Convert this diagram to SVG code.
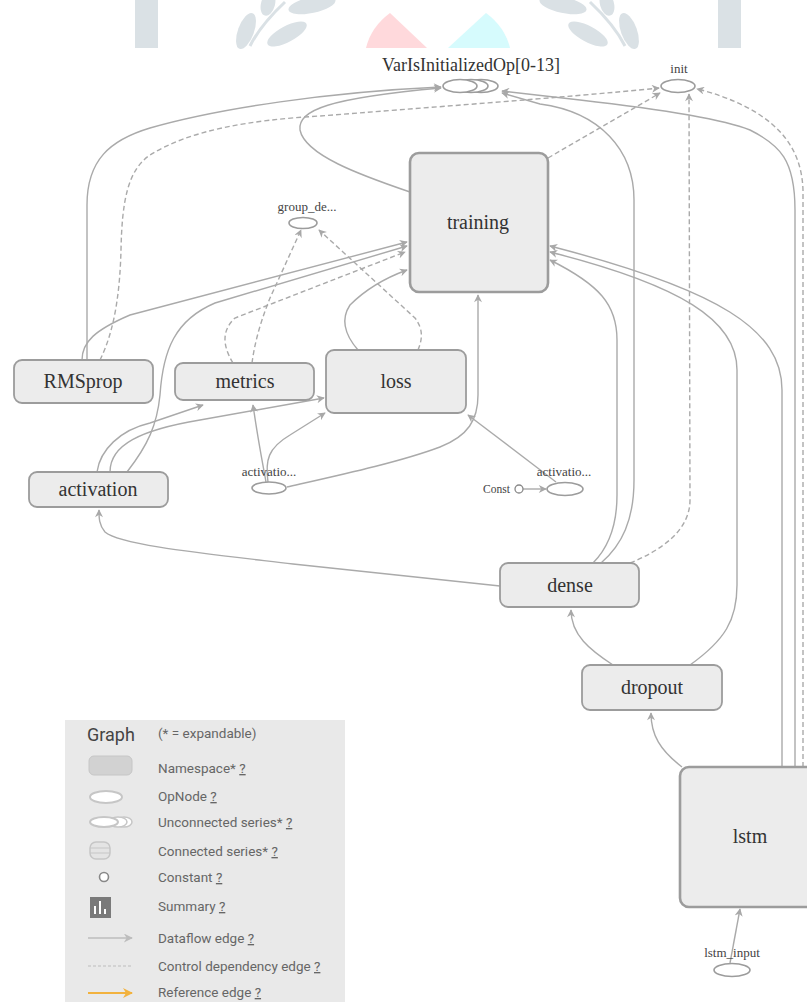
<svg xmlns="http://www.w3.org/2000/svg" width="807" height="1002" viewBox="0 0 807 1002">
<defs>
<marker id="arr" viewBox="0 0 10 10" refX="9" refY="5" markerWidth="9" markerHeight="8" markerUnits="userSpaceOnUse" orient="auto"><path d="M0,0 L10,5 L0,10 L3,5 Z" fill="#a8a8a8"/></marker>
<marker id="arrLeg" viewBox="0 0 10 10" refX="9" refY="5" markerWidth="10" markerHeight="9" markerUnits="userSpaceOnUse" orient="auto"><path d="M0,0 L10,5 L0,10 L3,5 Z" fill="#bdbdbd"/></marker>
<marker id="arrRef" viewBox="0 0 10 10" refX="9" refY="5" markerWidth="11" markerHeight="10" markerUnits="userSpaceOnUse" orient="auto"><path d="M0,0 L10,5 L0,10 L3,5 Z" fill="#f2b23e"/></marker>
</defs>
<style>
.ns{fill:#ececec;stroke:#9c9c9c;stroke-width:1.8}
.big{stroke-width:2.6}
.lbl{font-size:20px;fill:#333;text-anchor:middle}
.sm{font-size:13px;fill:#444;text-anchor:middle}
.op{fill:#fff;stroke:#9c9c9c;stroke-width:1.6}
.e{fill:none;stroke:#aaa;stroke-width:1.4;marker-end:url(#arr)}
.c{stroke-dasharray:5 3}
.leg{font-size:13.5px;fill:#666}
.u{text-decoration:underline}
.wm{fill:#dae1e5}
</style>
<rect x="0" y="0" width="807" height="1002" fill="#fff"/>

<g id="watermark">
<rect class="wm" x="135" y="0" width="23" height="48"/>
<rect class="wm" x="718" y="0" width="23" height="48"/>
<g id="leaves-left">
<ellipse class="wm" cx="246" cy="31" rx="8" ry="19" transform="rotate(20 246 31)"/>
<ellipse class="wm" cx="287" cy="34" rx="22" ry="8" transform="rotate(-28 287 34)"/>
<ellipse class="wm" cx="268" cy="4" rx="7" ry="12" transform="rotate(15 268 4)"/>
<ellipse class="wm" cx="312" cy="5" rx="24" ry="8" transform="rotate(-12 312 5)"/>
<path d="M250,46 C258,30 268,18 285,2" fill="none" stroke="#dae1e5" stroke-width="3"/>
</g>
<g id="leaves-right" transform="translate(875,0) scale(-1,1)">
<ellipse class="wm" cx="246" cy="31" rx="8" ry="19" transform="rotate(20 246 31)"/>
<ellipse class="wm" cx="287" cy="34" rx="22" ry="8" transform="rotate(-28 287 34)"/>
<ellipse class="wm" cx="268" cy="4" rx="7" ry="12" transform="rotate(15 268 4)"/>
<ellipse class="wm" cx="312" cy="5" rx="24" ry="8" transform="rotate(-12 312 5)"/>
<path d="M250,46 C258,30 268,18 285,2" fill="none" stroke="#dae1e5" stroke-width="3"/>
</g>
<path d="M366,48 Q371,27 390,13 L427,48 Z" fill="#ffd9dc"/>
<path d="M448,48 L486,13 Q505,27 510,48 Z" fill="#d6fbfd"/>
</g>

<g id="legend" font-family="Roboto, 'Liberation Sans', sans-serif">
<rect x="65" y="720" width="280" height="282" fill="#e9e9e9"/>
<text x="87" y="741" font-size="18" fill="#444">Graph</text>
<text x="158" y="738" class="leg" font-size="12">(* = expandable)</text>
<rect x="89" y="756" width="43" height="19" rx="5" fill="#d2d2d2" stroke="#c6c6c6"/>
<ellipse cx="106" cy="797" rx="16" ry="6" fill="#fff" stroke="#c6c6c6" stroke-width="2"/>
<ellipse cx="124" cy="822" rx="8" ry="5" fill="#fff" stroke="#c6c6c6" stroke-width="1.5"/>
<ellipse cx="118" cy="822" rx="9" ry="5" fill="#fff" stroke="#c6c6c6" stroke-width="1.5"/>
<ellipse cx="104" cy="822" rx="14" ry="5" fill="#fff" stroke="#c6c6c6" stroke-width="2"/>
<rect x="90" y="842" width="20" height="17" rx="6" fill="#e4e4e4" stroke="#c6c6c6" stroke-width="1.5"/>
<path d="M90,848 H110 M90,853 H110" stroke="#c6c6c6" stroke-width="1.2"/>
<circle cx="104" cy="877" r="4.5" fill="#fff" stroke="#888" stroke-width="1.6"/>
<rect x="90" y="897" width="21" height="21" fill="#7a7a7a"/>
<path d="M95,914 V906 M100,914 V901 M105,914 V909" stroke="#fff" stroke-width="2"/>
<line x1="88" y1="938" x2="132" y2="938" stroke="#bdbdbd" stroke-width="1.5" marker-end="url(#arrLeg)"/>
<line x1="88" y1="966" x2="132" y2="966" stroke="#bdbdbd" stroke-width="1.2" stroke-dasharray="3 2"/>
<line x1="88" y1="993" x2="132" y2="993" stroke="#f2b23e" stroke-width="2" marker-end="url(#arrRef)"/>
<text class="leg" x="158" y="773">Namespace* <tspan class="u">?</tspan></text>
<text class="leg" x="158" y="801">OpNode <tspan class="u">?</tspan></text>
<text class="leg" x="158" y="827">Unconnected series* <tspan class="u">?</tspan></text>
<text class="leg" x="158" y="856">Connected series* <tspan class="u">?</tspan></text>
<text class="leg" x="158" y="882">Constant <tspan class="u">?</tspan></text>
<text class="leg" x="158" y="911">Summary <tspan class="u">?</tspan></text>
<text class="leg" x="158" y="943">Dataflow edge <tspan class="u">?</tspan></text>
<text class="leg" x="158" y="971">Control dependency edge <tspan class="u">?</tspan></text>
<text class="leg" x="158" y="997">Reference edge <tspan class="u">?</tspan></text>
</g>

<g id="connectors">
<path class="e" d="M87,360 L87,205 C87,160 110,140 150,128 C220,108 330,92 441,87"/>
<path class="e c" d="M100,360 C115,330 120,290 121,250 C122,200 128,170 150,155 C190,130 250,120 320,116 C420,108 560,98 659,88"/>
<path class="e" d="M410,192 C360,175 305,155 300,130 C297,110 330,98 441,88"/>
<path class="e" d="M601,563 C622,545 634,520 634,480 L634,200 C634,150 600,112 540,104 L502,93"/>
<path class="e" d="M593,563 C608,548 617,525 617,495 L617,340 C617,305 600,285 550,260"/>
<path class="e" d="M690,665 C725,640 737,620 737,585 L737,370 C737,320 680,285 550,252"/>
<path class="e" d="M782,767 L782,390 C782,330 720,290 550,246"/>
<path class="e" d="M795,767 L795,210 C795,160 780,145 750,130 C720,118 650,108 580,100 L502,91"/>
<path class="e c" d="M803,767 L803,190 C802,160 790,135 760,115 C740,102 715,93 697,89"/>
<path class="e c" d="M630,563 C662,550 690,530 690,500 L689,94"/>
<path class="e c" d="M548,158 L660,93"/>
<path class="e" d="M682,767 C660,750 651,735 651,713"/>
<path class="e" d="M613,665 C590,650 571,635 571,610"/>
<path class="e" d="M500,586 L293,564 C200,553 120,545 105,532 C99,525 99,518 99,510"/>
<path class="e" d="M97,472 C100,450 120,430 150,423 L203,405"/>
<path class="e" d="M110,472 C110,445 140,430 200,420 L324,398"/>
<path class="e" d="M127,472 C148,445 157,425 160,395 C163,350 175,320 215,303 L407,246"/>
<path class="e" d="M82,360 C82,342 95,330 130,315 L407,242"/>
<path class="e c" d="M233,363 C222,345 222,330 235,318 L405,252"/>
<path class="e c" d="M252,363 C255,340 262,318 270,298 L301,230"/>
<path class="e c" d="M418,350 C422,340 424,330 415,318 L319,230"/>
<path class="e" d="M358,350 C345,335 340,320 350,305 C365,290 385,278 407,270"/>
<path class="e" d="M266,482 C262,460 258,440 253,405"/>
<path class="e" d="M268,482 C265,460 268,448 290,435 L325,413"/>
<path class="e" d="M287,487 C340,475 400,462 440,447 C468,436 478,420 478,395 L478,295"/>
<path class="e" d="M556,482 L468,415"/>
<path class="e" d="M523,489 L546,489"/>
<path class="e" d="M730,963 L740,909"/>
</g>

<g id="VarIsInitializedOp" font-family="'Liberation Serif', 'Times New Roman', serif">
<text x="471" y="71" font-size="18" fill="#333" text-anchor="middle">VarIsInitializedOp[0-13]</text>
<ellipse class="op" cx="481" cy="86" rx="17" ry="6.5"/>
<ellipse class="op" cx="471" cy="86" rx="17" ry="6.5"/>
<ellipse class="op" cx="460" cy="86" rx="17" ry="6.5"/>
</g>
<g id="init" font-family="'Liberation Serif', 'Times New Roman', serif">
<text class="sm" x="679" y="73">init</text>
<ellipse class="op" cx="678" cy="86" rx="17" ry="6.5"/>
</g>
<g id="training" font-family="'Liberation Serif', 'Times New Roman', serif">
<rect class="ns big" x="410" y="153" width="138" height="139" rx="9"/>
<text class="lbl" x="478" y="229">training</text>
</g>
<g id="group_deps" font-family="'Liberation Serif', 'Times New Roman', serif">
<text class="sm" x="307" y="211">group_de...</text>
<ellipse class="op" cx="303" cy="223" rx="14" ry="5.5"/>
</g>
<g id="RMSprop" font-family="'Liberation Serif', 'Times New Roman', serif">
<rect class="ns" x="14" y="360" width="139" height="43" rx="8"/>
<text class="lbl" x="83" y="388">RMSprop</text>
</g>
<g id="metrics" font-family="'Liberation Serif', 'Times New Roman', serif">
<rect class="ns" x="175" y="363" width="139" height="37" rx="8"/>
<text class="lbl" x="245" y="388">metrics</text>
</g>
<g id="loss" font-family="'Liberation Serif', 'Times New Roman', serif">
<rect class="ns" x="326" y="350" width="140" height="63" rx="8"/>
<text class="lbl" x="396" y="388">loss</text>
</g>
<g id="activation" font-family="'Liberation Serif', 'Times New Roman', serif">
<rect class="ns" x="29" y="472" width="139" height="35" rx="8"/>
<text class="lbl" x="98" y="496">activation</text>
</g>
<g id="activation_op_left" font-family="'Liberation Serif', 'Times New Roman', serif">
<text class="sm" x="269" y="476" font-size="13.5">activatio...</text>
<ellipse class="op" cx="269" cy="488" rx="17" ry="6"/>
</g>
<g id="activation_op_right" font-family="'Liberation Serif', 'Times New Roman', serif">
<text class="sm" x="564" y="476" font-size="13.5">activatio...</text>
<ellipse class="op" cx="565" cy="489" rx="18" ry="6.5"/>
<text x="483" y="493" font-size="11.5" fill="#444">Const</text>
<circle cx="519" cy="489" r="4" fill="#fff" stroke="#888" stroke-width="1.3"/>
</g>
<g id="dense" font-family="'Liberation Serif', 'Times New Roman', serif">
<rect class="ns" x="500" y="563" width="139" height="44" rx="8"/>
<text class="lbl" x="570" y="592">dense</text>
</g>
<g id="dropout" font-family="'Liberation Serif', 'Times New Roman', serif">
<rect class="ns" x="582" y="665" width="140" height="45" rx="8"/>
<text class="lbl" x="652" y="694">dropout</text>
</g>
<g id="lstm" font-family="'Liberation Serif', 'Times New Roman', serif">
<rect class="ns big" x="680" y="767" width="142" height="140" rx="9"/>
<text class="lbl" x="750" y="843">lstm</text>
</g>
<g id="lstm_input" font-family="'Liberation Serif', 'Times New Roman', serif">
<text class="sm" x="732" y="957" font-size="13.5">lstm_input</text>
<ellipse class="op" cx="732" cy="970" rx="18" ry="6.5"/>
</g>
</svg>
